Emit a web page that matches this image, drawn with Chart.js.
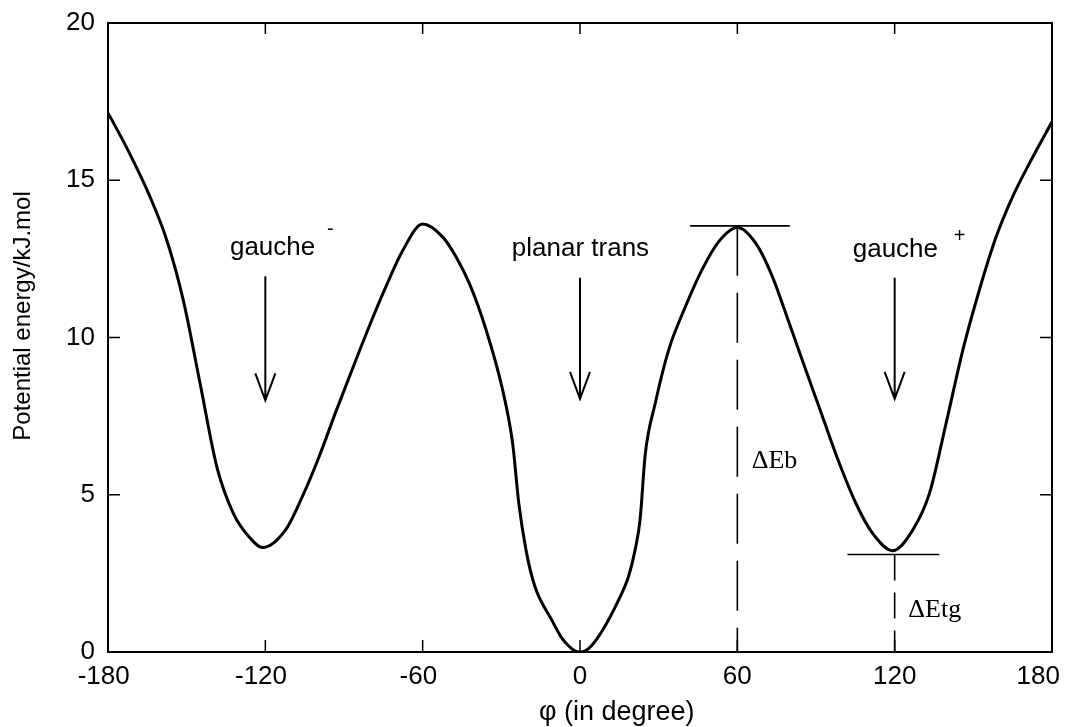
<!DOCTYPE html>
<html>
<head>
<meta charset="utf-8">
<script src="https://cdn.jsdelivr.net/npm/chart.js@4.4.1/dist/chart.umd.min.js"></script>
<style>
  html, body { margin: 0; padding: 0; background: #ffffff; }
  #wrap { width: 1071px; height: 727px; }
</style>
</head>
<body>
<div id="wrap"><canvas id="c" width="1071" height="727"></canvas></div>
<script>
// Torsional potential energy profile (kJ/mol) versus dihedral angle (degrees)
const phiDeg = [
  -180, -172.4, -164, -157.6, -151.3, -144.9, -138.5, -132.2, -126.3, -121,
  -112.3, -105.9, -99.5, -93.2, -86.8, -80.4, -74.1, -67.7, -60, -52.4,
  -47.3, -42.2, -35.8, -29.5, -25.7, -23.3, -20.5, -17.2, -10.8, -7,
  -4.4, -2, 0, 2, 4.4, 8.3, 14.7, 18.5, 21, 22.9,
  24.9, 28.7, 33.8, 40.2, 46.5, 52.9, 60, 67, 73.4, 79.8,
  86.1, 92.5, 98.9, 105.2, 111.6, 119.3, 126.9, 133.3, 139.6, 146,
  152.3, 158.7, 165, 171.4, 180
];
const energy = [
  17.14, 15.96, 14.48, 13.1, 11.19, 8.55, 5.89, 4.41, 3.67, 3.32,
  3.88, 4.94, 6.21, 7.62, 9.0, 10.35, 11.6, 12.75, 13.61, 13.2,
  12.57, 11.72, 10.24, 8.33, 6.64, 4.7, 3.2, 2.08, 1.02, 0.45,
  0.2, 0.04, 0, 0.04, 0.2, 0.65, 1.65, 2.4, 3.24, 4.2,
  6.3, 7.91, 9.6, 10.98, 12.15, 13.05, 13.5, 13.0, 11.93, 10.45,
  8.97, 7.48, 6.0, 4.73, 3.77, 3.22, 3.88, 5.05, 7.27, 9.6,
  11.51, 13.2, 14.48, 15.54, 16.86
];

const xTickValues = [-180, -120, -60, 0, 60, 120, 180];
const yTickValues = [0, 5, 10, 15, 20];

// Conformer arrows: position (deg), start and tip energies
const arrowPhi = [-120, 0, 120];
const arrowFrom = [11.95, 11.9, 11.9];
const arrowTo = [8.0, 8.05, 8.05];

// Barrier (ΔEb) and trans-gauche (ΔEtg) markers
const barrierPhi = 60, barrierE = 13.55, barrierSpan = [42, 80];
const gauchePhi = 120, gaucheE = 3.1, gaucheSpan = [102, 137];

// Text annotations: [text, phi, energy]
const sansLabels = [
  ['gauche', -133.5, 12.62],
  ['planar trans', -26.0, 12.59],
  ['gauche', 104.0, 12.55]
];
const superscripts = [['-', -96.5, 13.45], ['+', 142.5, 13.2]];
const serifLabels = [['\u0394Eb', 65.5, 5.84], ['\u0394Etg', 125.2, 1.12]];

const SANS = '"Liberation Sans", Arial, Helvetica, sans-serif';
const SERIF = '"Liberation Serif", "Times New Roman", serif';

const decor = {
  id: 'decor',
  afterDatasetsDraw(chart) {
    const ctx = chart.ctx;
    const xs = chart.scales.x, ys = chart.scales.y;
    const a = chart.chartArea;
    const X = v => xs.getPixelForValue(v);
    const Y = v => ys.getPixelForValue(v);
    ctx.save();
    ctx.strokeStyle = '#000';
    ctx.fillStyle = '#000';

    // frame
    ctx.lineWidth = 2;
    ctx.strokeRect(a.left, a.top, a.right - a.left, a.bottom - a.top);

    // inward tick marks on all four sides
    ctx.lineWidth = 1.5;
    ctx.beginPath();
    xTickValues.forEach(v => {
      const px = X(v);
      ctx.moveTo(px, a.bottom); ctx.lineTo(px, a.bottom - 12);
      ctx.moveTo(px, a.top); ctx.lineTo(px, a.top + 11);
    });
    yTickValues.forEach(v => {
      const py = Y(v);
      ctx.moveTo(a.left, py); ctx.lineTo(a.left + 12, py);
      ctx.moveTo(a.right, py); ctx.lineTo(a.right - 12, py);
    });
    ctx.stroke();

    // x tick labels: digits centred on the tick, minus sign hanging left,
    // kept inside the canvas at the right edge
    ctx.font = '26px ' + SANS;
    ctx.textBaseline = 'alphabetic';
    ctx.textAlign = 'left';
    xTickValues.forEach(v => {
      const digits = String(Math.abs(v));
      const w = ctx.measureText(digits).width;
      let left = X(v) - w / 2;
      left = Math.min(left, chart.width - 11 - w);
      ctx.fillText(digits, left, a.bottom + 32);
      if (v < 0) {
        const mw = ctx.measureText('-').width;
        ctx.fillText('-', left - mw, a.bottom + 32);
      }
    });

    // arrows
    ctx.lineWidth = 2;
    arrowPhi.forEach((p, i) => {
      const px = X(p), y0 = Y(arrowFrom[i]), y1 = Y(arrowTo[i]);
      ctx.beginPath();
      ctx.moveTo(px, y0); ctx.lineTo(px, y1);
      ctx.moveTo(px - 10, y1 - 27); ctx.lineTo(px, y1); ctx.lineTo(px + 10, y1 - 27);
      ctx.stroke();
    });

    // barrier and gauche level markers
    ctx.lineWidth = 1.6;
    ctx.beginPath();
    ctx.moveTo(X(barrierSpan[0]), Y(barrierE)); ctx.lineTo(X(barrierSpan[1]), Y(barrierE));
    ctx.moveTo(X(gaucheSpan[0]), Y(gaucheE)); ctx.lineTo(X(gaucheSpan[1]), Y(gaucheE));
    ctx.stroke();
    ctx.setLineDash([50, 17]);
    ctx.beginPath();
    ctx.moveTo(X(barrierPhi), Y(barrierE)); ctx.lineTo(X(barrierPhi), a.bottom);
    ctx.stroke();
    ctx.setLineDash([26, 12]);
    ctx.beginPath();
    ctx.moveTo(X(gauchePhi), Y(gaucheE)); ctx.lineTo(X(gauchePhi), a.bottom);
    ctx.stroke();
    ctx.setLineDash([]);

    // labels
    ctx.textAlign = 'left';
    ctx.textBaseline = 'alphabetic';
    ctx.font = '26px ' + SANS;
    sansLabels.forEach(([t, p, e]) => ctx.fillText(t, X(p), Y(e)));
    ctx.font = '20px ' + SANS;
    ctx.textBaseline = 'middle';
    superscripts.forEach(([t, p, e]) => ctx.fillText(t, X(p), Y(e)));
    ctx.textBaseline = 'alphabetic';
    ctx.font = '26px ' + SERIF;
    serifLabels.forEach(([t, p, e]) => ctx.fillText(t, X(p), Y(e)));

    // axis titles
    ctx.font = '27px ' + SANS;
    ctx.textAlign = 'center';
    ctx.textBaseline = 'alphabetic';
    ctx.fillText('\u03C6 (in degree)', X(14), 720);
    ctx.save();
    ctx.translate(30, 316);
    ctx.rotate(-Math.PI / 2);
    ctx.font = '24px ' + SANS;
    ctx.fillText('Potential energy/kJ.mol', 0, 0);
    ctx.restore();

    ctx.restore();
  }
};

new Chart(document.getElementById('c'), {
  type: 'line',
  data: {
    datasets: [{
      data: phiDeg.map((p, i) => ({ x: p, y: energy[i] })),
      borderColor: '#000',
      borderWidth: 3,
      pointRadius: 0,
      cubicInterpolationMode: 'monotone',
      fill: false
    }]
  },
  options: {
    responsive: false,
    devicePixelRatio: 1,
    animation: false,
    layout: { padding: { top: 23, right: 19, left: 0, bottom: 0 } },
    plugins: { legend: { display: false }, tooltip: { enabled: false } },
    scales: {
      x: {
        type: 'linear', min: -180, max: 180,
        afterFit: s => { s.height = 75; s.paddingLeft = 0; s.paddingRight = 0; },
        afterBuildTicks: s => { s.ticks = xTickValues.map(v => ({ value: v })); },
        grid: { display: false, drawTicks: false },
        border: { display: false },
        ticks: { display: false }
      },
      y: {
        type: 'linear', min: 0, max: 20,
        afterFit: s => { s.width = 108; s.paddingTop = 0; s.paddingBottom = 0; },
        afterBuildTicks: s => { s.ticks = yTickValues.map(v => ({ value: v })); },
        grid: { display: false, drawTicks: false },
        border: { display: false },
        ticks: { color: '#000', padding: 13, font: { family: SANS, size: 26 } }
      }
    }
  },
  plugins: [decor]
});
</script>
</body>
</html>
